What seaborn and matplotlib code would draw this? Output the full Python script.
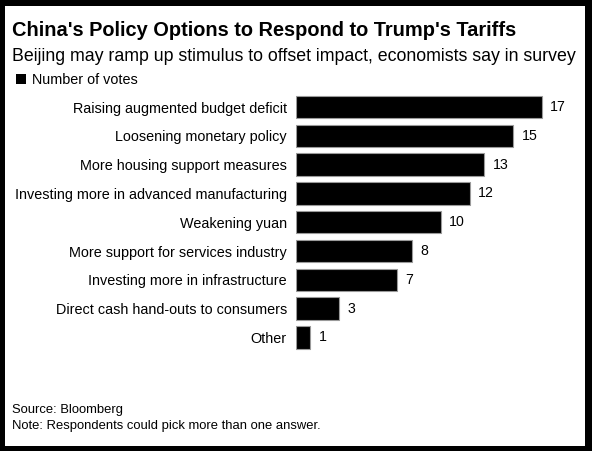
import matplotlib
matplotlib.use("Agg")
import pandas as pd
from matplotlib import pyplot as plt
from matplotlib.patches import Rectangle
import seaborn as sns

# Chart data
categories = [
    "Raising augmented budget deficit",
    "Loosening monetary policy",
    "More housing support measures",
    "Investing more in advanced manufacturing",
    "Weakening yuan",
    "More support for services industry",
    "Investing more in infrastructure",
    "Direct cash hand-outs to consumers",
    "Other",
]
votes = [17, 15, 13, 12, 10, 8, 7, 3, 1]

title = "China's Policy Options to Respond to Trump's Tariffs"
subtitle = "Beijing may ramp up stimulus to offset impact, economists say in survey"
legend_label = "Number of votes"
source = "Source: Bloomberg"
note = "Note: Respondents could pick more than one answer."

df = pd.DataFrame({"option": categories, "votes": votes})

sns.set_theme(style="white")
plt.rcParams["font.family"] = ["Liberation Sans", "DejaVu Sans"]

W, H = 592, 451
fig = plt.figure(figsize=(W / 100, H / 100), dpi=100)
fig.patch.set_facecolor("black")

# white card inside the black frame
card = Rectangle((5 / W, 1 - 446 / H), 580 / W, 440 / H,
                 transform=fig.transFigure, facecolor="white",
                 edgecolor="none", zorder=-10)
fig.patches.append(card)

def px(x, y):
    return x / W, 1 - y / H

# axes placed in pixel coordinates
ax_left, ax_top, ax_bottom = 296, 92.6, 351.9
ax_right = 296 + 14.47 * 19
ax = fig.add_axes([ax_left / W, 1 - ax_bottom / H,
                   (ax_right - ax_left) / W, (ax_bottom - ax_top) / H])
ax.set_facecolor("none")

sns.barplot(data=df, x="votes", y="option", color="black", width=0.78,
            edgecolor="#9a9a9a", linewidth=0.8, saturation=1, ax=ax)

ax.set_xlim(0, 19)
ax.set_ylim(len(categories) - 0.5, -0.5)
ax.set_xlabel("")
ax.set_ylabel("")
ax.set_xticks([])
ax.tick_params(axis="y", length=0, pad=6.5, labelsize=10.4, labelcolor="black")
for s in ax.spines.values():
    s.set_visible(False)

# value labels
for i, v in enumerate(votes):
    ax.annotate(str(v), (v, i), xytext=(6, 0), textcoords="offset points",
                va="center", ha="left", fontsize=10.2, color="black")

# header texts
fig.text(*px(12, 36), title, fontsize=14.4, fontweight="bold", color="black",
         va="baseline", ha="left")
fig.text(*px(12, 61), subtitle, fontsize=12.75, color="black",
         va="baseline", ha="left")
fig.patches.append(Rectangle(px(16, 84), 9.5 / W, 9.5 / H, transform=fig.transFigure,
                             facecolor="black", edgecolor="none"))
fig.text(*px(32, 84), legend_label, fontsize=10.4, color="black",
         va="baseline", ha="left")

# footer texts
fig.text(*px(12, 413.5), source, fontsize=9.4, color="black", va="baseline", ha="left")
fig.text(*px(12, 428.5), note, fontsize=9.4, color="black", va="baseline", ha="left")

plt.savefig("out.png", dpi=100, facecolor=fig.get_facecolor())
